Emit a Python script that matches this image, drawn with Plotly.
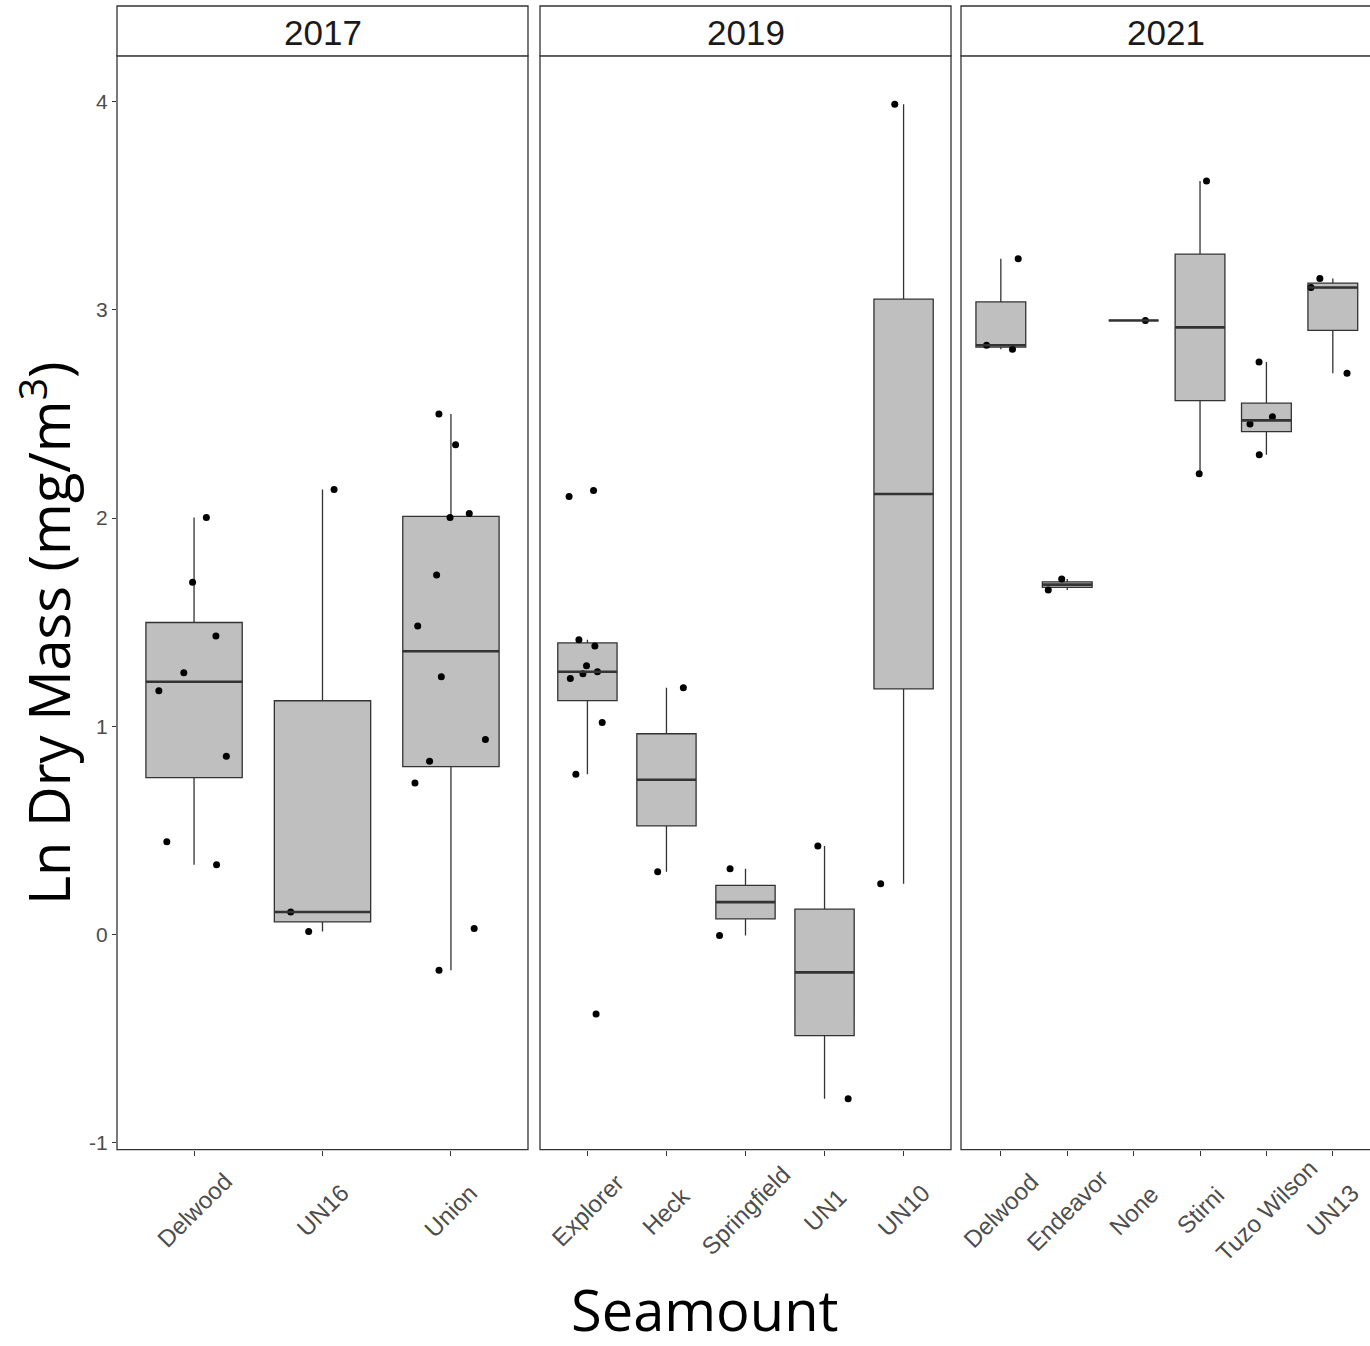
import numpy as np
import plotly.graph_objects as go

# ---------------- data ----------------
years = ["2017", "2019", "2021"]

cats_2017 = ["Delwood", "UN16", "Union"]
cats_2019 = ["Explorer", "Heck", "Springfield", "UN1", "UN10"]
cats_2021 = ["Delwood", "Endeavor", "None", "Stirni", "Tuzo Wilson", "UN13"]

# Ln dry mass values per seamount
vals_2017 = [
    [2.003, 1.692, 1.434, 1.257, 1.171, 0.856, 0.445, 0.335],                  # Delwood
    [2.137, 0.108, 0.014],                                                     # UN16
    [2.500, 2.352, 2.022, 2.003, 1.726, 1.482, 1.238, 0.937, 0.832, 0.727,
     0.029, -0.172],                                                           # Union
]
vals_2019 = [
    [2.132, 2.103, 1.415, 1.386, 1.291, 1.262, 1.252, 1.229, 1.018, 0.770,
     -0.382],                                                                  # Explorer
    [1.185, 0.301],                                                            # Heck
    [0.316, -0.005],                                                           # Springfield
    [0.425, -0.789],                                                           # UN1
    [3.987, 0.244],                                                            # UN10
]
vals_2021 = [
    [3.246, 2.830, 2.811],                                                     # Delwood
    [1.707, 1.654],                                                            # Endeavor
    [2.949],                                                                   # None
    [3.619, 2.213],                                                            # Stirni
    [2.749, 2.486, 2.452, 2.304],                                              # Tuzo Wilson
    [3.150, 3.107, 2.696],                                                     # UN13
]

y_tick_vals = [-1, 0, 1, 2, 3, 4]
y_tick_text = ["-1", "0", "1", "2", "3", "4"]

y_title = "Ln Dry Mass (mg/m<sup>3</sup>)"
x_title = "Seamount"


def box_stats(v):
    """Tukey box statistics (quantile type 7, whiskers to 1.5 IQR)."""
    a = np.asarray(v, dtype=float)
    q1, med, q3 = np.percentile(a, [25, 50, 75])
    iqr = q3 - q1
    lo = a[a >= q1 - 1.5 * iqr].min()
    hi = a[a <= q3 + 1.5 * iqr].max()
    return q1, med, q3, min(lo, q1), max(hi, q3)


# ---------------- layout geometry ----------------
W, H = 1370, 1346
panel_px = [(117, 528), (540, 951), (961, 1370)]
x_ranges = [[-0.6, 2.6], [-0.6, 4.6], [-0.6, 5.56]]
plot_top_px, plot_bot_px = 56, 1153
strip_top_px = 6
y_dom = [1 - plot_bot_px / H, 1 - plot_top_px / H]

BOX_FILL = "#BFBFBF"
LINE = "#333333"
TICK_TXT = "#4D4D4D"
AX_FONT = "Liberation Sans, Arial"

panels = [(cats_2017, vals_2017), (cats_2019, vals_2019), (cats_2021, vals_2021)]

fig = go.Figure()
shapes = []
annotations = []

for p, (cats, vals) in enumerate(panels):
    xa = "x" if p == 0 else f"x{p+1}"
    ya = "y" if p == 0 else f"y{p+1}"
    stats = [box_stats(v) for v in vals]

    # boxes from computed statistics
    fig.add_trace(go.Box(
        x=cats, xaxis=xa, yaxis=ya,
        q1=[s[0] for s in stats], median=[s[1] for s in stats],
        q3=[s[2] for s in stats], lowerfence=[s[3] for s in stats],
        upperfence=[s[4] for s in stats],
        width=0.75, whiskerwidth=0, boxpoints=False,
        fillcolor=BOX_FILL, line=dict(color=LINE, width=1.3),
        hoverinfo="skip", showlegend=False,
    ))

    # jittered raw points (plotly's own jitter)
    xs, ys = [], []
    for c, v in zip(cats, vals):
        xs += [c] * len(v)
        ys += v
    fig.add_trace(go.Box(
        x=xs, y=ys, xaxis=xa, yaxis=ya,
        boxpoints="all", jitter=0.9, pointpos=0, width=0.75,
        fillcolor="rgba(0,0,0,0)", line=dict(color="rgba(0,0,0,0)", width=0),
        marker=dict(color="black", size=7, line=dict(width=0)),
        hoverinfo="y", showlegend=False,
    ))

    # thicker median line (ggplot style), from the computed medians
    for i, s in enumerate(stats):
        shapes.append(dict(type="line", xref=xa, yref=ya,
                           x0=i - 0.375, x1=i + 0.375, y0=s[1], y1=s[1],
                           line=dict(color=LINE, width=2.6), layer="above"))

    # tick label annotations (rotated, centered on tick)
    for c in cats:
        annotations.append(dict(
            x=c, xref=xa, y=1 - 1214 / H, yref="paper",
            text=c, showarrow=False, textangle=-45,
            xanchor="center", yanchor="middle",
            font=dict(family=AX_FONT, size=24, color=TICK_TXT),
        ))

    # panel border + strip
    x0p, x1p = panel_px[p]
    right = x1p / W if p < 2 else 1.01
    shapes.append(dict(type="rect", xref="paper", yref="paper",
                       x0=x0p / W, x1=right, y0=y_dom[0], y1=y_dom[1],
                       line=dict(color=LINE, width=1.3), fillcolor="rgba(0,0,0,0)",
                       layer="above"))
    shapes.append(dict(type="rect", xref="paper", yref="paper",
                       x0=x0p / W, x1=right, y0=y_dom[1], y1=1 - strip_top_px / H,
                       line=dict(color=LINE, width=1.3), fillcolor="white",
                       layer="above"))
    annotations.append(dict(
        x=(x0p + x1p) / 2 / W, xref="paper",
        y=1 - 33 / H, yref="paper",
        text=years[p], showarrow=False, xanchor="center", yanchor="middle",
        font=dict(family=AX_FONT, size=35, color="#1A1A1A"),
    ))

# axis titles
annotations.append(dict(
    x=704 / W, xref="paper", y=0.006, yref="paper",
    text=x_title, showarrow=False, xanchor="center", yanchor="bottom",
    height=62, valign="top", borderpad=0,
    font=dict(family="Open Sans", size=56, color="black"),
))
annotations.append(dict(
    x=46 / W, xref="paper", y=1 - 635 / H, yref="paper",
    text=y_title, showarrow=False, textangle=-90,
    xanchor="center", yanchor="middle",
    font=dict(family="Open Sans", size=56, color="black"),
))

layout = dict(
    width=W, height=H,
    margin=dict(l=0, r=0, t=0, b=0),
    paper_bgcolor="white", plot_bgcolor="white",
    showlegend=False, boxmode="overlay",
    shapes=shapes, annotations=annotations,
)
for p in range(3):
    xkey = "xaxis" if p == 0 else f"xaxis{p+1}"
    ykey = "yaxis" if p == 0 else f"yaxis{p+1}"
    x0p, x1p = panel_px[p]
    layout[xkey] = dict(
        domain=[x0p / W, min(x1p / W, 1.0)], range=x_ranges[p],
        anchor="y" if p == 0 else f"y{p+1}",
        showticklabels=False, ticks="outside", ticklen=5,
        tickcolor=LINE, tickwidth=1.2,
        showgrid=False, zeroline=False, showline=False, fixedrange=True,
    )
    ydict = dict(
        domain=y_dom, range=[-1.033, 4.22],
        anchor="x" if p == 0 else f"x{p+1}",
        showgrid=False, zeroline=False, showline=False, fixedrange=True,
    )
    if p == 0:
        ydict.update(tickvals=y_tick_vals, ticktext=y_tick_text,
                     ticks="outside", ticklen=4, tickcolor=LINE, tickwidth=1.2,
                     tickfont=dict(family=AX_FONT, size=21, color=TICK_TXT))
    else:
        ydict.update(matches="y", showticklabels=False, ticks="")
    layout[ykey] = ydict

fig.update_layout(**layout)
fig.write_html("out.html")
